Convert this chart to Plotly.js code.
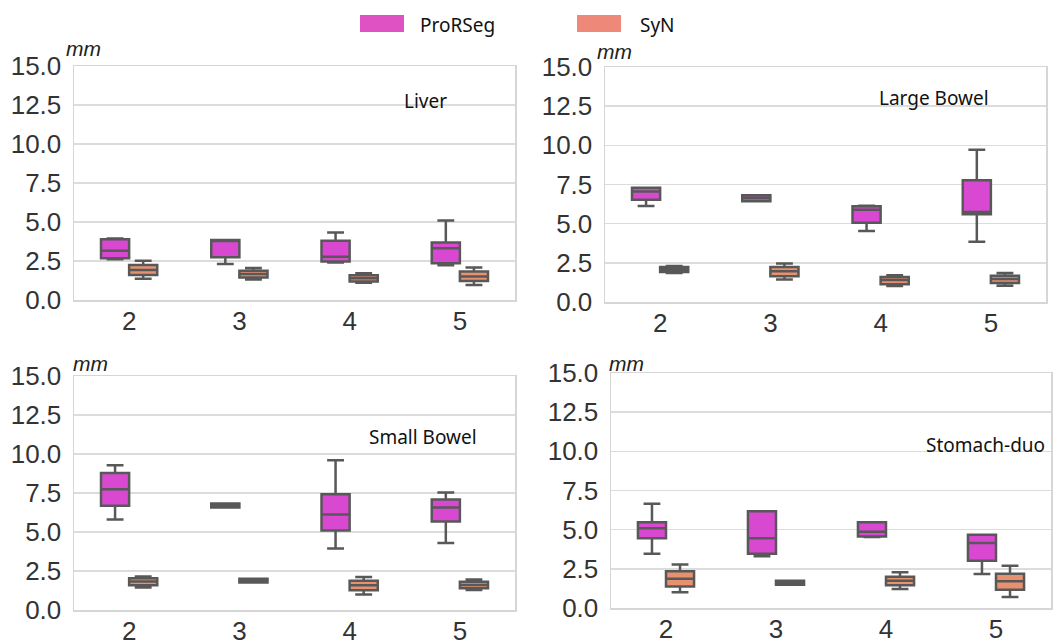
<!DOCTYPE html>
<html>
<head>
<meta charset="utf-8">
<script src="https://cdn.plot.ly/plotly-3.0.1.min.js"></script>
<style>html,body{margin:0;padding:0;background:#fff;}#chart{width:1060px;height:641px;}</style>
</head>
<body>
<div id="chart"></div>
<script>
const categories = ['2', '3', '4', '5'];
const methods = ['ProRSeg', 'SyN'];
const panelNames = ['Liver', 'Large Bowel', 'Small Bowel', 'Stomach-duo'];

// Liver
const liverProLo = [2.62, 2.31, 2.41, 2.22];
const liverProQ1 = [2.67, 2.74, 2.46, 2.35];
const liverProMed = [3.16, 3.80, 2.78, 3.31];
const liverProQ3 = [3.89, 3.85, 3.80, 3.68];
const liverProHi = [3.95, 3.85, 4.32, 5.09];
const liverSynLo = [1.37, 1.32, 1.11, 0.96];
const liverSynQ1 = [1.60, 1.45, 1.18, 1.22];
const liverSynMed = [1.92, 1.67, 1.40, 1.50];
const liverSynQ3 = [2.24, 1.88, 1.58, 1.82];
const liverSynHi = [2.52, 2.05, 1.71, 2.09];

// Large Bowel
const lbProLo = [6.13, 6.43, 4.53, 3.85];
const lbProQ1 = [6.53, 6.43, 5.06, 5.60];
const lbProMed = [7.05, 6.64, 5.89, 5.74];
const lbProQ3 = [7.30, 6.81, 6.11, 7.77];
const lbProHi = [7.30, 6.81, 6.15, 9.72];
const lbSynLo = [1.85, 1.43, 1.02, 1.04];
const lbSynQ1 = [1.91, 1.64, 1.13, 1.21];
const lbSynMed = [2.07, 1.96, 1.40, 1.47];
const lbSynQ3 = [2.23, 2.23, 1.60, 1.68];
const lbSynHi = [2.30, 2.45, 1.70, 1.85];

// Small Bowel
const sbProLo = [5.80, 6.57, 3.95, 4.29];
const sbProQ1 = [6.68, 6.57, 5.10, 5.68];
const sbProMed = [7.74, 6.70, 6.12, 6.57];
const sbProQ3 = [8.79, 6.83, 7.42, 7.08];
const sbProHi = [9.28, 6.83, 9.60, 7.53];
const sbSynLo = [1.45, 1.77, 1.00, 1.28];
const sbSynQ1 = [1.58, 1.77, 1.26, 1.39];
const sbSynMed = [1.83, 1.88, 1.58, 1.60];
const sbSynQ3 = [2.03, 2.00, 1.88, 1.81];
const sbSynHi = [2.15, 2.00, 2.11, 1.96];

// Stomach-duo
const sdProLo = [3.47, 3.30, 4.53, 2.17];
const sdProQ1 = [4.45, 3.47, 4.57, 3.02];
const sdProMed = [5.09, 4.45, 4.87, 4.15];
const sdProQ3 = [5.47, 6.17, 5.47, 4.68];
const sdProHi = [6.66, 6.17, 5.47, 4.68];
const sdSynLo = [1.00, 1.49, 1.21, 0.70];
const sdSynQ1 = [1.38, 1.49, 1.45, 1.17];
const sdSynMed = [1.87, 1.60, 1.74, 1.70];
const sdSynQ3 = [2.34, 1.74, 2.00, 2.19];
const sdSynHi = [2.77, 1.74, 2.28, 2.70];

const yTicks = [0, 2.5, 5, 7.5, 10, 12.5, 15];

const panels = [
  {pro: [liverProLo, liverProQ1, liverProMed, liverProQ3, liverProHi], syn: [liverSynLo, liverSynQ1, liverSynMed, liverSynQ3, liverSynHi]},
  {pro: [lbProLo, lbProQ1, lbProMed, lbProQ3, lbProHi], syn: [lbSynLo, lbSynQ1, lbSynMed, lbSynQ3, lbSynHi]},
  {pro: [sbProLo, sbProQ1, sbProMed, sbProQ3, sbProHi], syn: [sbSynLo, sbSynQ1, sbSynMed, sbSynQ3, sbSynHi]},
  {pro: [sdProLo, sdProQ1, sdProMed, sdProQ3, sdProHi], syn: [sdSynLo, sdSynQ1, sdSynMed, sdSynQ3, sdSynHi]}
];

const fillColors = {ProRSeg: '#d848d0', SyN: '#e8916e'};
const legendColors = {ProRSeg: '#df52c4', SyN: '#ee8878'};
const W = 1060, H = 641;
// pixel boxes of each plot area: [left, right, top, bottom]
const areas = [[74, 515, 66, 300], [605, 1046, 67, 302], [74, 515, 376, 610], [611, 1051, 373, 608]];
const mmPos = [[83, 49], [614, 52], [90, 363], [626, 363]];
const namePos = [[425, 101], [934, 98], [423, 437], [985, 445]];

const traces = [];
panels.forEach((p, i) => {
  const ax = i === 0 ? '' : String(i + 1);
  [['ProRSeg', p.pro], ['SyN', p.syn]].forEach(([m, s]) => {
    traces.push({
      type: 'box', name: m, x: categories,
      lowerfence: s[0], q1: s[1], median: s[2], q3: s[3], upperfence: s[4],
      xaxis: 'x' + ax, yaxis: 'y' + ax,
      fillcolor: fillColors[m], line: {color: '#585858', width: 2.5},
      whiskerwidth: 0.6, boxpoints: false, showlegend: false, offsetgroup: m,
      hoverinfo: 'skip'
    });
  });
});

const layout = {
  width: W, height: H,
  margin: {l: 0, r: 0, t: 0, b: 0},
  paper_bgcolor: '#fff', plot_bgcolor: '#fff',
  boxmode: 'group', boxgap: 0.49, boxgroupgap: 0,
  showlegend: false,
  font: {family: 'Liberation Sans, Arial, sans-serif', color: '#333'},
  annotations: [], shapes: []
};

areas.forEach((a, i) => {
  const ax = i === 0 ? '' : String(i + 1);
  layout['xaxis' + ax] = {
    domain: [a[0] / W, a[1] / W], anchor: 'y' + ax,
    type: 'category', categoryorder: 'array', categoryarray: categories,
    showgrid: false, zeroline: false, showline: true, mirror: true,
    linecolor: '#d6d6d6', linewidth: 1.5, ticks: '',
    tickfont: {family: 'Liberation Sans, Arial, sans-serif', size: 26, color: '#333'},
    ticklabelstandoff: -3, fixedrange: true
  };
  layout['yaxis' + ax] = {
    domain: [1 - a[3] / H, 1 - a[2] / H], anchor: 'x' + ax,
    range: [0, 15], tickvals: yTicks, tickformat: '.1f',
    showgrid: true, gridcolor: '#dcdcdc', gridwidth: 1.5, zeroline: false,
    showline: true, mirror: true, linecolor: '#d6d6d6', linewidth: 1.5, ticks: '',
    tickfont: {family: 'Liberation Sans, Arial, sans-serif', size: 26, color: '#333'},
    ticklabelstandoff: 6, fixedrange: true
  };
  layout.annotations.push({
    xref: 'paper', yref: 'paper', x: mmPos[i][0] / W, y: 1 - mmPos[i][1] / H,
    xanchor: 'center', yanchor: 'middle', showarrow: false,
    text: '<i>mm</i>', font: {family: 'Liberation Sans, Arial, sans-serif', size: 21, color: '#222'}
  });
  layout.annotations.push({
    xref: 'paper', yref: 'paper', x: namePos[i][0] / W, y: 1 - namePos[i][1] / H,
    xanchor: 'center', yanchor: 'middle', showarrow: false,
    text: panelNames[i], font: {family: 'Noto Sans, Open Sans, sans-serif', size: 19, color: '#111'}
  });
});

// legend (drawn manually)
const legendItems = [[methods[0], 360, 404, 418], [methods[1], 577, 621, 638]];
legendItems.forEach(([m, x0, x1, tx]) => {
  layout.shapes.push({
    type: 'rect', xref: 'paper', yref: 'paper',
    x0: x0 / W, x1: x1 / W, y0: 1 - 32 / H, y1: 1 - 15 / H,
    fillcolor: legendColors[m], line: {width: 0}
  });
  layout.annotations.push({
    xref: 'paper', yref: 'paper', x: tx / W, y: 1 - 25 / H,
    xanchor: 'left', yanchor: 'middle', showarrow: false,
    text: m, font: {family: 'Noto Sans, Open Sans, sans-serif', size: 19, color: '#111'}
  });
});

Plotly.newPlot('chart', traces, layout, {displayModeBar: false, staticPlot: true});
</script>
</body>
</html>
